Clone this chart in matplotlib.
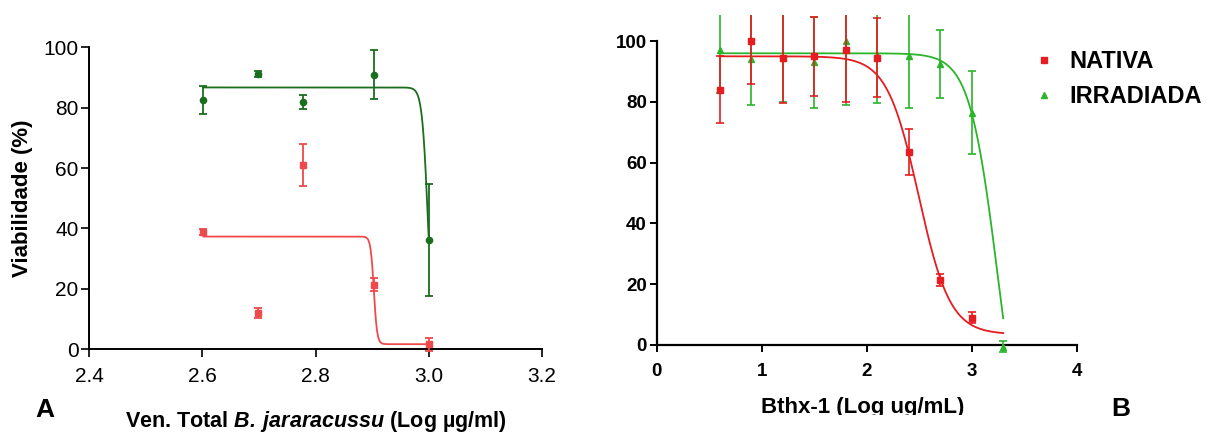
import numpy as np
import matplotlib
matplotlib.use("Agg")
import matplotlib.pyplot as plt
from matplotlib.lines import Line2D
from matplotlib.transforms import Bbox

plt.rcParams["font.family"] = ["Liberation Sans", "DejaVu Sans"]
plt.rcParams["mathtext.fontset"] = "custom"
plt.rcParams["mathtext.rm"] = "Liberation Sans:bold"
plt.rcParams["mathtext.bfit"] = "Liberation Sans:italic:bold"

# ── Painel A : veneno total (Log µg/ml) ───────────────────────────────────────
log_dose_a = [2.602, 2.699, 2.778, 2.903, 3.0]
viab_verde_a = [82.6, 91.2, 82.0, 90.9, 36.1]
erro_verde_a = [4.7, 1.0, 2.3, 8.1, 18.5]
viab_verm_a = [38.8, 11.9, 61.0, 21.3, 1.65]
erro_verm_a = [1.0, 1.7, 7.0, 2.2, 2.2]

# parâmetros do ajuste sigmoidal (topo, base, logIC50, hill)
ajuste_verde_a = (86.7, 0.0, 2.9983, 85.0)
ajuste_verm_a = (37.3, 1.65, 2.903, 150.0)

# ── Painel B : Bthx-1 nativa x irradiada ──────────────────────────────────────
log_dose_nat = [0.6, 0.9, 1.2, 1.5, 1.8, 2.1, 2.4, 2.7, 3.0]
viab_nat = [84, 100, 94.5, 95, 97, 94.5, 63.5, 21.5, 9]
erro_nat = [11, 14, 15, 13, 17, 13, 7.5, 2, 1.7]

log_dose_irr = [0.6, 0.9, 1.2, 1.5, 1.8, 2.1, 2.4, 2.7, 3.0, 3.3]
viab_irr = [97, 94, 94.5, 93, 100, 95.5, 95, 92.5, 76.5, -0.5]
erro_irr = [14, 15, 14.5, 15, 21, 16, 17, 11.3, 13.6, 1.8]

ajuste_nat = (95.0, 3.5, 2.494, 2.89)
ajuste_irr = (96.0, -50.0, 3.2475, 3.26)

VERDE_A = "#1a6e1c"
VERM_A = "#ee4a4c"
VERM_B = "#e61c20"
VERDE_B = "#2ab52a"


def curva(x, topo, base, logic50, hill):
    return base + (topo - base) / (1 + 10 ** ((x - logic50) * hill))


def estilo_eixos(ax, lw):
    ax.spines["top"].set_visible(False)
    ax.spines["right"].set_visible(False)
    ax.spines["left"].set_linewidth(lw)
    ax.spines["bottom"].set_linewidth(lw)


fig = plt.figure(figsize=(12.08, 4.32), dpi=100)

# ── A ─────────────────────────────────────────────────────────────────────────
ax = fig.add_axes([0.0737, 0.1918, 0.3750, 0.6987])
estilo_eixos(ax, 1.4)

xs = np.linspace(log_dose_a[0], log_dose_a[-1], 800)
ax.plot(xs, curva(xs, *ajuste_verde_a), color=VERDE_A, lw=1.3, zorder=3)
ax.plot(xs, curva(xs, *ajuste_verm_a), color=VERM_A, lw=1.3, zorder=3)
ax.errorbar(log_dose_a, viab_verde_a, yerr=erro_verde_a, fmt="o", ms=4.5,
            color=VERDE_A, ecolor=VERDE_A, elinewidth=1.3, capsize=3,
            capthick=1.3, clip_on=False, zorder=4)
ax.errorbar(log_dose_a, viab_verm_a, yerr=erro_verm_a, fmt="s", ms=4.5,
            color=VERM_A, ecolor=VERM_A, elinewidth=1.3, capsize=3,
            capthick=1.3, clip_on=False, zorder=4)

ax.set_xlim(2.4, 3.2)
ax.set_ylim(0, 100)
ax.set_xticks([2.4, 2.6, 2.8, 3.0, 3.2])
ax.set_xticklabels(["2.4", "2.6", "2.8", "3.0", "3.2"])
ax.set_yticks(range(0, 101, 20))
ax.tick_params(axis="both", direction="out", length=5.5, width=1.2,
               labelsize=15)
ax.tick_params(axis="y", pad=2)
ax.tick_params(axis="x", pad=7)

ax.set_ylabel("Viabilidade (%)", fontsize=16, fontweight="bold")
ax.yaxis.set_label_coords(-0.124, 0.5)
ax.set_xlabel(r"Ven. Total $\mathbfit{B.\,jararacussu}$ (Log µg/ml)",
              fontsize=15.5, fontweight="bold")
ax.xaxis.set_label_coords(0.5, -0.198)

fig.text(45 / 1208, 1 - 410 / 432, "A", fontsize=19, fontweight="bold",
         ha="center", va="center")

# ── B ─────────────────────────────────────────────────────────────────────────
ax2 = fig.add_axes([0.5436, 0.1803, 0.3477, 0.7850])
estilo_eixos(ax2, 1.6)
ax2.spines["left"].set_bounds(0, 100)
ax2.spines["bottom"].set_position(("data", 0))

xs2 = np.linspace(0.6, 3.3, 600)
ax2.plot(xs2, curva(xs2, *ajuste_irr), color=VERDE_B, lw=1.3, zorder=3)
ax2.plot(xs2, curva(xs2, *ajuste_nat), color=VERM_B, lw=1.3, zorder=3)
ax2.errorbar(log_dose_irr, viab_irr, yerr=erro_irr, fmt="^", ms=4.5,
             color=VERDE_B, ecolor=VERDE_B, elinewidth=1.2, capsize=3,
             capthick=1.2, zorder=4)
ax2.errorbar(log_dose_nat, viab_nat, yerr=erro_nat, fmt="s", ms=4.5,
             color=VERM_B, ecolor=VERM_B, elinewidth=1.2, capsize=3,
             capthick=1.2, zorder=5)

ax2.set_xlim(0, 4)
ax2.set_ylim(-3, 108.6)
ax2.set_xticks(range(0, 5))
ax2.set_yticks(range(0, 101, 20))
ax2.tick_params(axis="both", direction="out", length=5, width=1.4,
                labelsize=13.5)
for lab in ax2.get_xticklabels() + ax2.get_yticklabels():
    lab.set_fontweight("bold")
ax2.tick_params(axis="y", pad=2)
ax2.tick_params(axis="x", pad=8)

ax2.set_xlabel("Bthx-1 (Log ug/mL)", fontsize=16, fontweight="bold")
ax2.xaxis.set_label_coords(0.49, -0.125)
# base da imagem corta as letras descendentes do rótulo
rotulo = ax2.xaxis.label
rotulo.set_clip_on(True)
rotulo.set_clip_box(Bbox.from_extents(0, 432 - 415, 1208, 432))

handles = [
    Line2D([], [], marker="s", color=VERM_B, ls="none", ms=5),
    Line2D([], [], marker="^", color=VERDE_B, ls="none", ms=5),
]
ax2.legend(handles, ["NATIVA", "IRRADIADA"], loc="upper left",
           bbox_to_anchor=(1032 / 1208, 1 - 50 / 432),
           bbox_transform=fig.transFigure, frameon=False,
           prop={"size": 17, "weight": "bold"}, handlelength=1.0,
           handletextpad=0.6, labelspacing=0.5, borderpad=0,
           borderaxespad=0)

fig.text(1121 / 1208, 1 - 409 / 432, "B", fontsize=19, fontweight="bold",
         ha="center", va="center")

fig.savefig("out.png", dpi=100)
